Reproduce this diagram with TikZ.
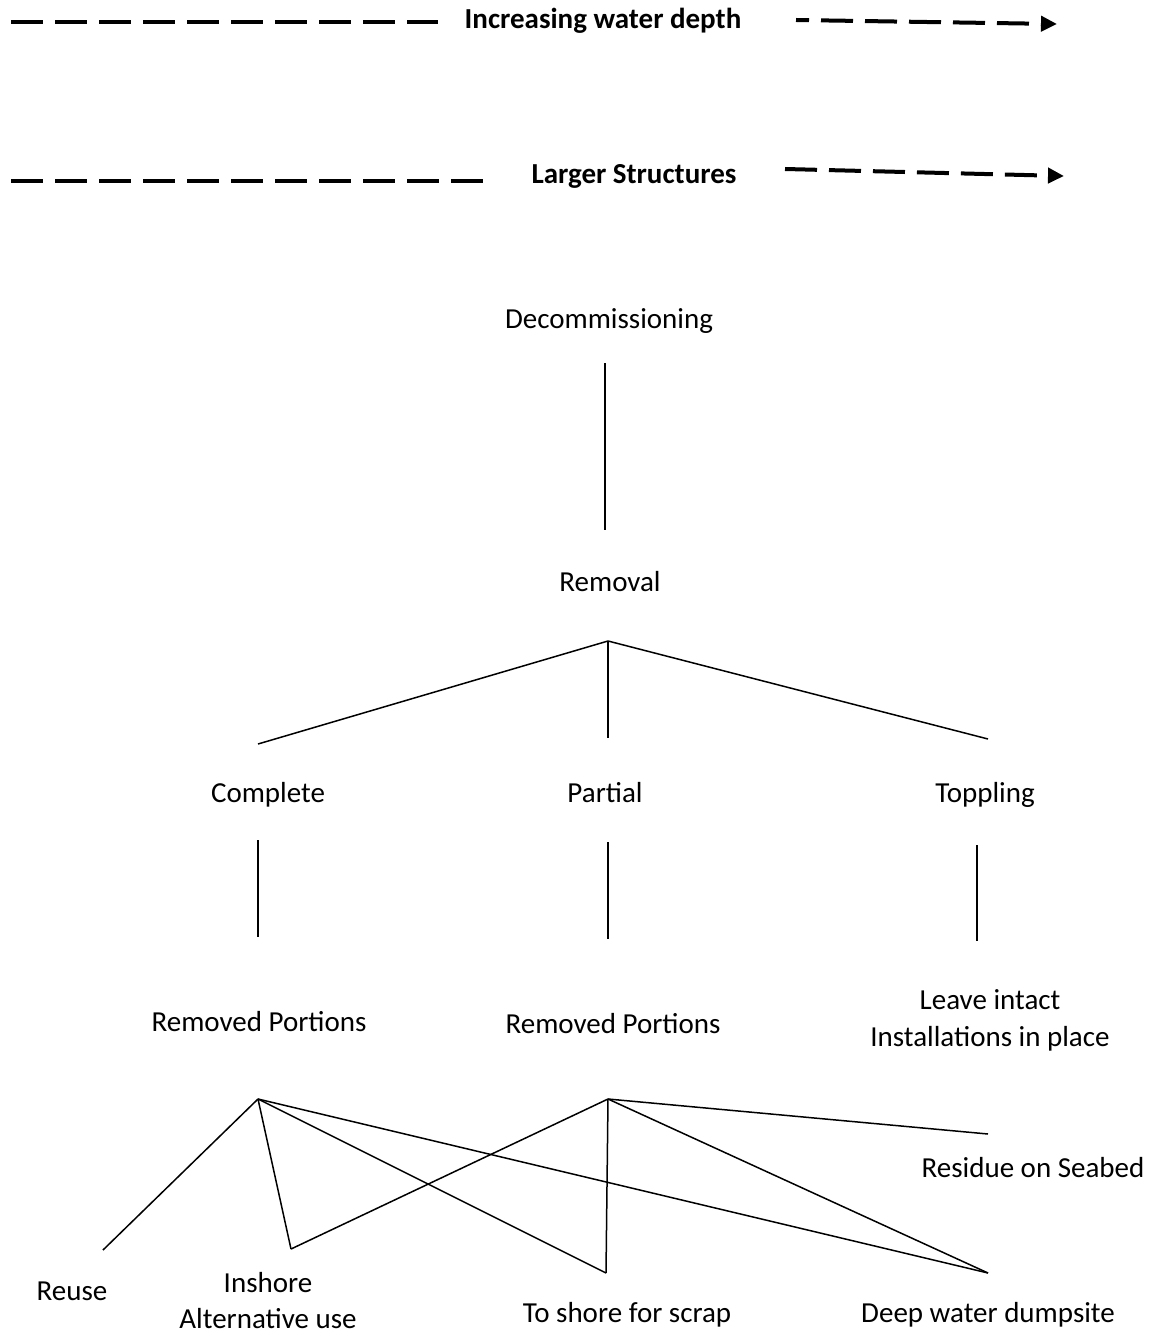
\documentclass[tikz,border=0pt]{standalone}
\usepackage{fontspec}
\setmainfont{Carlito}
\usetikzlibrary{arrows.meta}
\begin{document}
\begin{tikzpicture}[x=1pt,y=-1pt,
  lbl/.style={font=\fontsize{29}{35}\selectfont, inner sep=0pt, align=center},
  hdr/.style={font=\bfseries\fontsize{29}{35}\selectfont, inner sep=0pt},
  conn/.style={line width=1.5pt},
  dline/.style={line width=4pt, dash pattern=on 32pt off 12pt},
  darrow/.style={line width=4pt, dash pattern=on 32pt off 12pt, -{Triangle[length=16pt,width=15pt]}}]
\useasboundingbox (0,0) rectangle (1164,1337);
% header arrows
\node[hdr] (hd1) at (603,21) {Increasing water depth};
\coordinate (h1a) at (11,22);
\coordinate (h1b) at (438,22);
\coordinate (h1c) at (796,20);
\coordinate (h1d) at (1057,24);
\draw[dline] (h1a) -- (h1b);
\draw[darrow, dash phase=19pt] (h1c) -- (h1d);
\node[hdr] (hd2) at (634,176) {Larger Structures};
\coordinate (h2a) at (11,181);
\coordinate (h2b) at (483,181);
\coordinate (h2c) at (785,169);
\coordinate (h2d) at (1064,176);
\draw[dline] (h2a) -- (h2b);
\draw[darrow] (h2c) -- (h2d);
% tree nodes
\node[lbl] (dec) at (609,321) {Decommissioning};
\node[lbl] (rem) at (610,582) {Removal};
\node[lbl] (comp) at (268,795) {Complete};
\node[lbl] (part) at (605,793) {Partial};
\node[lbl] (topp) at (985,795) {Toppling};
\node[lbl] (rp1) at (259,1022) {Removed Portions};
\node[lbl] (rp2) at (613,1024) {Removed Portions};
\node[lbl] (leave) at (990,1020) {Leave intact\\[2pt]Installations in place};
\node[lbl] (reuse) at (72,1291) {Reuse};
\node[lbl] (insh) at (268,1301) {Inshore\\[1pt]Alternative use};
\node[lbl] (shore) at (627,1315) {To shore for scrap};
\node[lbl] (deep) at (988,1315) {Deep water dumpsite};
\node[lbl] (resid) at (1033,1168) {Residue on Seabed};
% connector end points
\coordinate (d1) at (605,363);
\coordinate (d2) at (605,530);
\coordinate (ra) at (608,641);
\coordinate (rc) at (258,744);
\coordinate (rpp) at (608,738);
\coordinate (rt) at (988,739);
\coordinate (c1) at (258,840);
\coordinate (c2) at (258,937);
\coordinate (p1) at (608,842);
\coordinate (p2) at (608,939);
\coordinate (t1) at (977,845);
\coordinate (t2) at (977,941);
\coordinate (aA) at (258,1099);
\coordinate (aB) at (608,1099);
\coordinate (eReuse) at (103,1250);
\coordinate (eInsh) at (291,1249);
\coordinate (eShore) at (606,1273);
\coordinate (eDeep) at (988,1273);
\coordinate (eRes) at (988,1134);
% connectors
\draw[conn] (d1) -- (d2);
\draw[conn] (ra) -- (rc);
\draw[conn] (ra) -- (rpp);
\draw[conn] (ra) -- (rt);
\draw[conn] (c1) -- (c2);
\draw[conn] (p1) -- (p2);
\draw[conn] (t1) -- (t2);
\draw[conn] (aA) -- (eReuse);
\draw[conn] (aA) -- (eInsh);
\draw[conn] (aA) -- (eShore);
\draw[conn] (aA) -- (eDeep);
\draw[conn] (aB) -- (eInsh);
\draw[conn] (aB) -- (eShore);
\draw[conn] (aB) -- (eDeep);
\draw[conn] (aB) -- (eRes);
\end{tikzpicture}
\end{document}
